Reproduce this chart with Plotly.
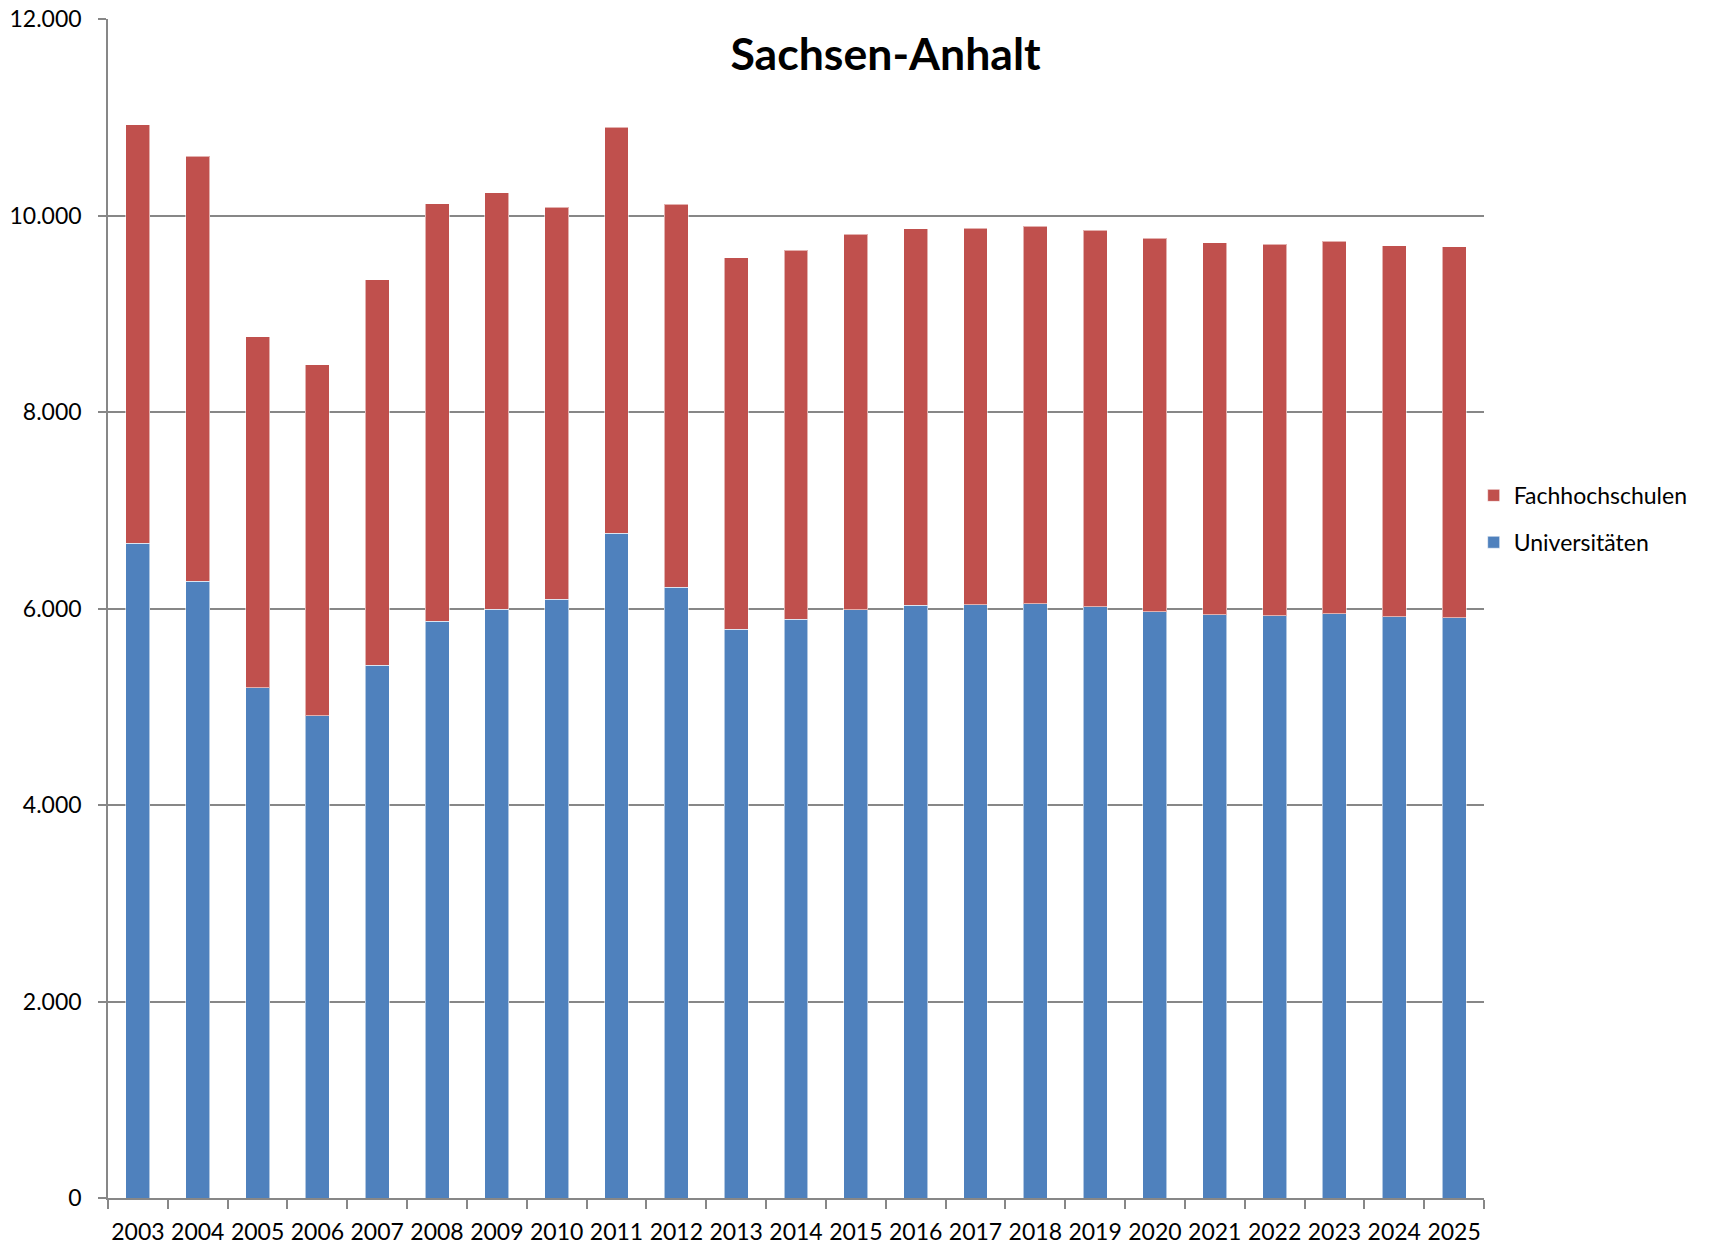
import plotly.graph_objects as go

years = ["2003", "2004", "2005", "2006", "2007", "2008", "2009", "2010", "2011", "2012",
         "2013", "2014", "2015", "2016", "2017", "2018", "2019", "2020", "2021", "2022",
         "2023", "2024", "2025"]

universitaeten = [6662, 6278, 5195, 4910, 5423, 5868, 5993, 6092, 6764, 6214,
                  5790, 5892, 5986, 6034, 6037, 6047, 6017, 5966, 5936, 5925,
                  5946, 5915, 5905]

fachhochschulen = [4262, 4323, 3569, 3572, 3922, 4251, 4238, 3993, 4132, 3901,
                   3779, 3752, 3824, 3830, 3831, 3845, 3834, 3803, 3786, 3783,
                   3793, 3777, 3776]

y_ticks = [0, 2000, 4000, 6000, 8000, 10000, 12000]

BLUE = "#4F81BD"
RED = "#C0504D"
GRID = "#878787"
FONT = "Lato"

W, H = 1715, 1246

fig = go.Figure()
fig.add_trace(go.Bar(
    x=years, y=universitaeten, name="Universitäten", legendgroup="u", legendrank=2,
    marker=dict(color=BLUE, line=dict(color="rgba(255,255,255,0.55)", width=1)),
))
fig.add_trace(go.Bar(
    x=years, y=fachhochschulen, name="Fachhochschulen", legendgroup="f", legendrank=1,
    marker=dict(color=RED, line=dict(color="rgba(255,255,255,0.55)", width=1)),
))

fig.update_layout(
    width=W, height=H,
    barmode="stack", bargap=0.6,
    separators=",.",
    paper_bgcolor="white", plot_bgcolor="white",
    margin=dict(l=108, r=231, t=19, b=48, autoexpand=False),
    font=dict(family=FONT, size=23, color="#000000"),
    title=dict(text="<b>Sachsen-Anhalt</b>", x=885.5 / W, xanchor="center",
               y=1 - 54 / H, yanchor="middle", yref="container",
               font=dict(family=FONT, size=44.6, color="#000000")),
    legend=dict(x=0.9925, xanchor="left", y=0.576, yanchor="middle",
                traceorder="grouped", tracegroupgap=14,
                font=dict(family=FONT, size=23, color="#000000"),
                bgcolor="rgba(0,0,0,0)"),
    showlegend=True,
)

fig.update_yaxes(
    range=[0, 12000], tickvals=y_ticks, tickformat=",d",
    showgrid=True, gridcolor=GRID, gridwidth=1.5,
    showline=True, linecolor=GRID, linewidth=1.5,
    ticks="outside", ticklen=8, tickcolor=GRID, tickwidth=1.5,
    ticklabelstandoff=12, ticklabeloverflow="allow",
    zeroline=False, automargin=False,
    tickfont=dict(family=FONT, size=23, color="#000000"),
)
fig.update_xaxes(
    type="category", showgrid=False,
    showline=True, linecolor=GRID, linewidth=1.5,
    ticks="outside", ticklen=9, tickcolor=GRID, tickwidth=1.5,
    tickson="boundaries", ticklabelstandoff=13, tickangle=0, automargin=False,
    tickfont=dict(family=FONT, size=23, color="#000000"),
)

fig.write_html("out.html",
               config={"displayModeBar": False},
               post_script="document.body.style.margin='0';document.body.style.overflow='hidden';")
